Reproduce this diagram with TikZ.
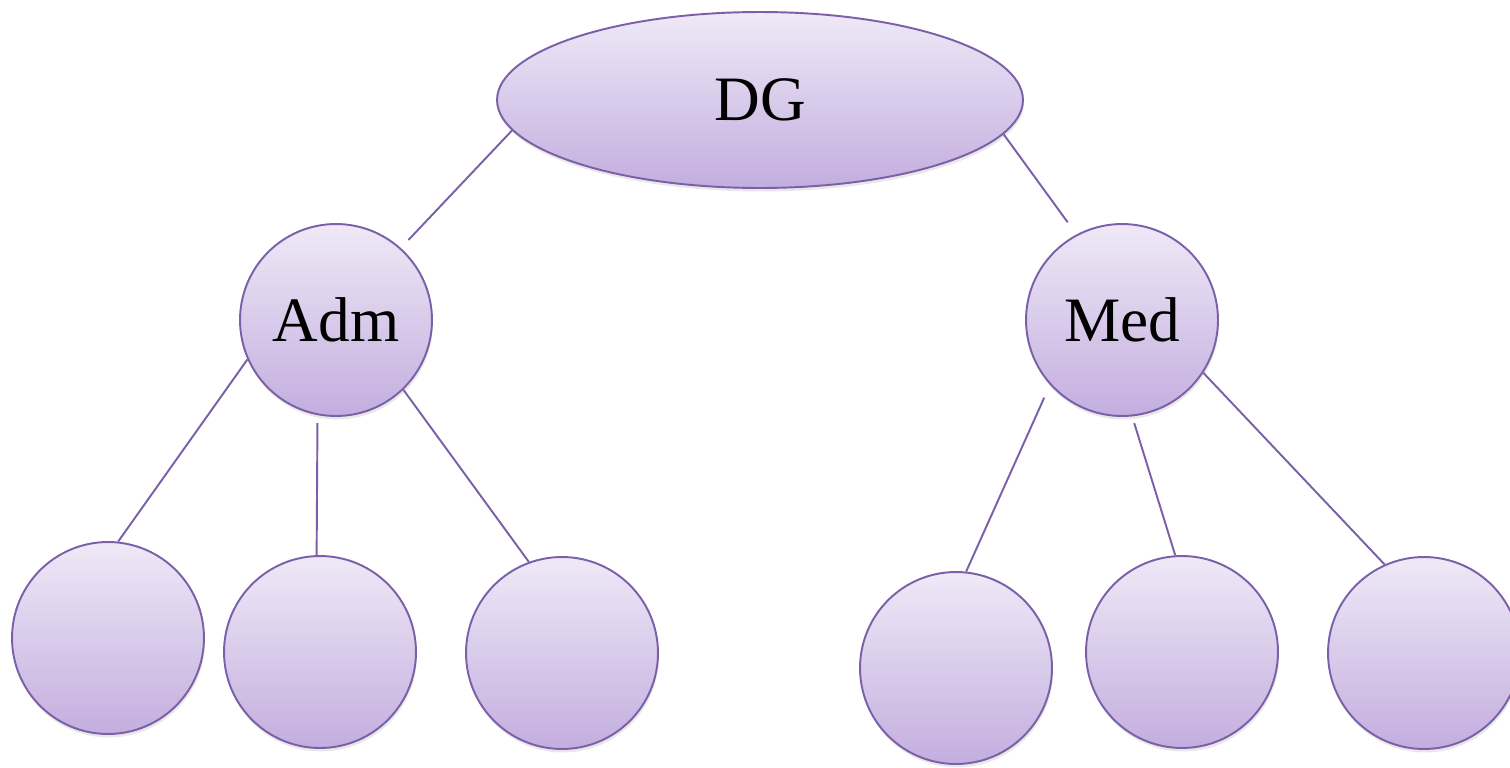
\documentclass[tikz,border=0pt]{standalone}
\usepackage{fontspec}
\setmainfont{Liberation Serif}
\usetikzlibrary{shapes.geometric,shadows}

\definecolor{lilaclight}{HTML}{EFE9F7}
\definecolor{lilacdark}{HTML}{C3AEDF}
\definecolor{lilacedge}{HTML}{7B5FA8}

\begin{document}
\begin{tikzpicture}[x=0.02cm, y=-0.02cm,
  box/.style={draw=lilacedge, line width=1.1pt, top color=lilaclight, bottom color=lilacdark,
    drop shadow={shadow xshift=0.02cm, shadow yshift=-0.07cm, opacity=0.18},
    font=\fontsize{36}{40}\selectfont, inner sep=0pt},
  unit/.style={box, circle, minimum size=3.84cm},
  head/.style={box, ellipse, minimum width=10.52cm, minimum height=3.52cm},
  link/.style={draw=lilacedge, line width=1.1pt}]

\useasboundingbox (0,0) rectangle (1510,767);

% top level
\node[head] (dg) at (760,100) {DG};

% second level
\node[unit] (adm) at (336,320) {Adm};
\node[unit] (med) at (1122,320) {Med};

% leaves
\node[unit] (a1) at (108,638) {};
\node[unit] (a2) at (320,652) {};
\node[unit] (a3) at (562,653) {};
\node[unit] (b1) at (956,668) {};
\node[unit] (b2) at (1182,652) {};
\node[unit] (b3) at (1424,653) {};

\draw[link, shorten >=0.22cm] (dg.187) -- (adm.48);
\draw[link, shorten >=0.3cm] (dg.352) -- (med.118);

\draw[link] (adm.204) -- (a1.84);
\draw[link, shorten <=0.16cm] (adm.259) -- (a2.92);
\draw[link] (adm.314) -- (a3.110);

\draw[link, shorten <=0.28cm] (med.222) -- (b1.84);
\draw[link, shorten <=0.14cm] (med.276) -- (b2.94);
\draw[link] (med.327) -- (b3.114);

\end{tikzpicture}
\end{document}
